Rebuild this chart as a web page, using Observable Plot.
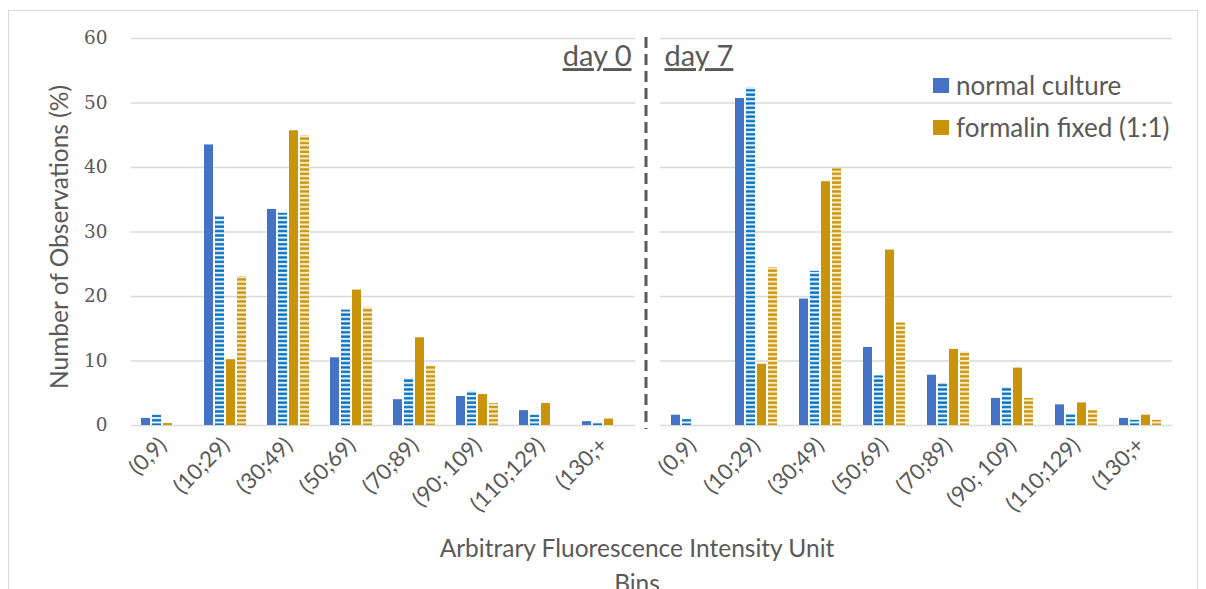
<!DOCTYPE html>
<html>
<head>
<meta charset="utf-8">
<script src="https://cdn.jsdelivr.net/npm/d3@7"></script>
<script src="https://cdn.jsdelivr.net/npm/@observablehq/plot@0.6"></script>
<style>
  body { margin: 0; background: #fff; }
  #chart { position: relative; width: 1206px; height: 589px; overflow: hidden; font-family: Lato, sans-serif; color: #595959; }
  #border { position: absolute; left: 8px; top: 10px; width: 1188px; height: 640px; border: 1px solid #d9d9d9; }
  #left { position: absolute; left: 0; top: 0; }
  #right { position: absolute; left: 645px; top: 0; }
  #divider { position: absolute; left: 643px; top: 37px; }
  #legend { position: absolute; left: 933px; top: 64px; }
  .item { display: flex; align-items: center; height: 42px; font-size: 26px; white-space: nowrap; }
  .swatch { width: 16px; height: 15px; margin-right: 7px; flex: none; }
  #xtitle { position: absolute; left: 0; width: 1274px; top: 530px; text-align: center; font-size: 24.5px; line-height: 35px; }
</style>
</head>
<body>
<div id="chart">
  <div id="border"></div>
  <div id="left"></div>
  <div id="right"></div>
  <svg id="divider" width="6" height="392"><line x1="3" x2="3" y1="0" y2="392" stroke="#595959" stroke-width="3" stroke-dasharray="11 6"></line></svg>
  <div id="legend"></div>
  <div id="xtitle"></div>
</div>
<script>
// Intensity bins (x categories)
const bins = ["(0,9)", "(10;29)", "(30;49)", "(50;69)", "(70;89)", "(90; 109)", "(110;129)", "(130;+"];

// Four bars per bin: solid and striped for each culture type
const seriesKeys = ["normal", "normalStriped", "formalin", "formalinStriped"];

// Day 0 percentages
const day0Normal          = [1.1, 43.5, 33.5, 10.5, 4.0, 4.5, 2.3, 0.6];
const day0NormalStriped   = [1.6, 32.4, 32.9, 17.9, 7.3, 5.3, 1.6, 0.4];
const day0Formalin        = [0.3, 10.2, 45.7, 21.0, 13.6, 4.8, 3.4, 1.0];
const day0FormalinStriped = [0, 23.1, 44.9, 18.3, 9.2, 3.4, 0, 0];

// Day 7 percentages
const day7Normal          = [1.6, 50.7, 19.6, 12.1, 7.8, 4.2, 3.2, 1.1];
const day7NormalStriped   = [1.0, 52.4, 23.9, 7.7, 6.5, 5.9, 1.7, 0.8];
const day7Formalin        = [0, 9.5, 37.8, 27.2, 11.8, 8.9, 3.5, 1.6];
const day7FormalinStriped = [0, 24.5, 39.8, 15.9, 11.4, 4.2, 2.3, 0.8];

const yTicks = [0, 10, 20, 30, 40, 50, 60];
const dayLabels = ["day 0", "day 7"];
const legendLabels = ["normal culture", "formalin fixed (1:1)"];
const yTitle = "Number of Observations (%)";
const xTitle = ["Arbitrary Fluorescence Intensity Unit", "Bins"];

const BLUE = "#4472c4", GOLD = "#c9940a";

function toRows(lists) {
  const rows = [];
  seriesKeys.forEach((s, i) => bins.forEach((b, j) => rows.push({bin: b, series: s, value: lists[i][j]})));
  return rows;
}
const day0Rows = toRows([day0Normal, day0NormalStriped, day0Formalin, day0FormalinStriped]);
const day7Rows = toRows([day7Normal, day7NormalStriped, day7Formalin, day7FormalinStriped]);

// Horizontal stripe fills for the striped bars
function addPatterns(svg, prefix) {
  const defs = d3.select(svg).insert("defs", ":first-child");
  const stripes = (id, bg, fg) => {
    const p = defs.append("pattern").attr("id", prefix + id)
      .attr("patternUnits", "userSpaceOnUse").attr("width", 8).attr("height", 4.4);
    p.append("rect").attr("width", 8).attr("height", 4.4).attr("fill", bg);
    p.append("rect").attr("y", 1.1).attr("width", 8).attr("height", 2.3).attr("fill", fg);
  };
  stripes("blue", "#e6f0fa", "#0070c0");
  stripes("gold", "#f6ebcc", "#c9940a");
}

function panel({rows, width, marginLeft, marginRight, prefix, day, first}) {
  const marks = [
    Plot.gridY(yTicks, {stroke: "#d9d9d9", strokeOpacity: 1, strokeWidth: 1.5}),
    Plot.barY(rows, {fx: "bin", x: "series", y: "value", fill: "series"}),
    Plot.axisFx({anchor: "bottom", tickRotate: -45, tickSize: 0, tickPadding: 16,
      fontFamily: "Lato, sans-serif", fontSize: 22, label: null}),
    Plot.text([{bin: first ? bins[bins.length - 1] : bins[0], label: day}], {
      fx: "bin", text: "label", frameAnchor: first ? "top-right" : "top-left",
      textAnchor: first ? "end" : "start", dx: first ? -4 : 4, dy: 7,
      lineAnchor: "top", fontSize: 29, fontFamily: "Lato, sans-serif", fill: "#595959",
      className: "daylabel"
    })
  ];
  if (first) {
    marks.push(
      Plot.axisY(yTicks, {tickSize: 0, tickPadding: 24, label: null,
        fontFamily: "DejaVu Serif, serif", fontSize: 18.5}),
      Plot.text([{bin: bins[0], label: yTitle}], {
        fx: "bin", text: "label", frameAnchor: "left", textAnchor: "middle", rotate: -90, dx: -71, dy: 5,
        fontSize: 24.5, fontFamily: "Lato, sans-serif", fill: "#595959"
      })
    );
  }
  const svg = Plot.plot({
    width, height: 589,
    marginLeft, marginRight, marginTop: 38, marginBottom: 164,
    style: {color: "#595959", background: "transparent", overflow: "visible"},
    fx: {domain: bins, padding: 0, label: null},
    x: {domain: seriesKeys, axis: null, paddingInner: 0.18, paddingOuter: 0.9},
    y: {domain: [0, 60], ...(first ? {} : {axis: null})},
    color: {type: "ordinal", domain: seriesKeys,
      range: [BLUE, `url(#${prefix}blue)`, GOLD, `url(#${prefix}gold)`]},
    marks
  });
  addPatterns(svg, prefix);
  d3.select(svg).selectAll(".daylabel text").style("text-decoration", "underline");
  return svg;
}

document.getElementById("left").append(panel({
  rows: day0Rows, width: 645, marginLeft: 128, marginRight: 7, prefix: "d0", day: dayLabels[0], first: true
}));
document.getElementById("right").append(panel({
  rows: day7Rows, width: 561, marginLeft: 13, marginRight: 33, prefix: "d7", day: dayLabels[1], first: false
}));

// Legend
const legend = d3.select("#legend");
[BLUE, GOLD].forEach((c, i) => {
  const item = legend.append("div").attr("class", "item");
  item.append("div").attr("class", "swatch").style("background", c);
  item.append("span").text(legendLabels[i]);
});

// Shared x-axis title
d3.select("#xtitle").selectAll("div").data(xTitle).join("div").text(d => d);
</script>
</body>
</html>
